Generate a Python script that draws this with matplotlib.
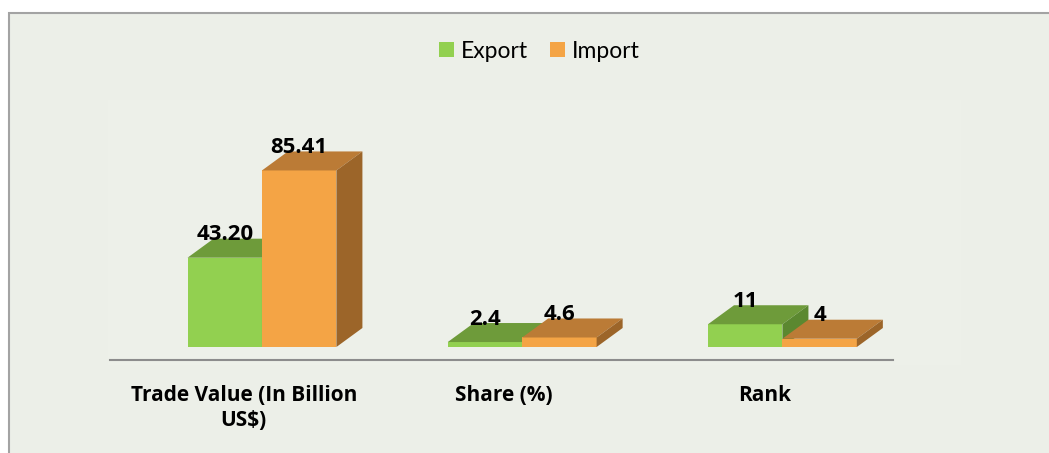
import matplotlib.pyplot as plt
from matplotlib.patches import Polygon, Rectangle, Patch

# --------------------------------------------------
# Data
# --------------------------------------------------

categories = ["Trade Value (In Billion\nUS$)", "Share (%)", "Rank"]
export_values = [43.20, 2.4, 11]
import_values = [85.41, 4.6, 4]
export_labels = ["43.20", "2.4", "11"]
import_labels = ["85.41", "4.6", "4"]

# --------------------------------------------------
# Style
# --------------------------------------------------

W, H = 1049, 453
BG = "#ECEFE8"
BOLD_FONT = ["Open Sans", "DejaVu Sans"]

export_colors = ("#92D050", "#6E9B3A", "#5B8830")   # front, top, side
import_colors = ("#F4A445", "#BB7B36", "#9C6529")

bar_w = 0.286     # width of one bar (category units)
depth_x = 0.10    # 3d depth offset along x
depth_y = 9.2     # 3d depth offset along y (value units)

plt.rcParams["font.family"] = ["Lato", "DejaVu Sans"]

fig = plt.figure(figsize=(W / 100, H / 100), dpi=100, facecolor="white")

# chart frame
fig.patches.append(Rectangle((9 / W, -0.05), 1.05, 1 - 13 / H + 0.05,
                             transform=fig.transFigure, facecolor=BG,
                             edgecolor="#A3A3A3", linewidth=1.5, zorder=-2))
fig.patches.append(Rectangle((108 / W, 1 - 365 / H), (961 - 108) / W, 265 / H,
                             transform=fig.transFigure, facecolor="#EDF0E9",
                             edgecolor="none", zorder=-1))

ax = fig.add_axes([110 / W, 1 - 360 / H, 783 / W, 260 / H], zorder=1)
ax.set_facecolor("none")
ax.set_xlim(-0.584, 2.425)
ax.set_ylim(-6.29, 119.5)

# --------------------------------------------------
# 3D bars
# --------------------------------------------------

def bar3d(x0, h, colors):
    front, top, side = colors
    ax.add_patch(Polygon([(x0, 0), (x0 + bar_w, 0), (x0 + bar_w, h), (x0, h)],
                         closed=True, facecolor=front, edgecolor="none"))
    ax.add_patch(Polygon([(x0, h), (x0 + bar_w, h),
                          (x0 + bar_w + depth_x, h + depth_y), (x0 + depth_x, h + depth_y)],
                         closed=True, facecolor=top, edgecolor="none"))
    ax.add_patch(Polygon([(x0 + bar_w, 0), (x0 + bar_w + depth_x, depth_y),
                          (x0 + bar_w + depth_x, h + depth_y), (x0 + bar_w, h)],
                         closed=True, facecolor=side, edgecolor="none"))


for i in range(len(categories)):
    bar3d(i - bar_w, export_values[i], export_colors)
    bar3d(i, import_values[i], import_colors)

    ax.text(i - bar_w / 2, export_values[i] + depth_y - 0.8, export_labels[i],
            ha="center", va="baseline", fontsize=16, fontweight="bold",
            family=BOLD_FONT, color="black")
    ax.text(i + bar_w / 2, import_values[i] + depth_y - 0.8, import_labels[i],
            ha="center", va="baseline", fontsize=16, fontweight="bold",
            family=BOLD_FONT, color="black")

# --------------------------------------------------
# Axes
# --------------------------------------------------

for side in ["top", "left", "right"]:
    ax.spines[side].set_visible(False)
ax.spines["bottom"].set_color("#8C8C8C")
ax.spines["bottom"].set_linewidth(1.5)

ax.set_yticks([])
ax.set_xticks([i - 0.07 for i in range(len(categories))])
ax.set_xticklabels(categories, fontsize=15, fontweight="bold", family=BOLD_FONT,
                   linespacing=1.25)
ax.tick_params(axis="x", length=0, pad=18)

# --------------------------------------------------
# Legend
# --------------------------------------------------

handles = [Patch(facecolor=export_colors[0], label="Export"),
           Patch(facecolor=import_colors[0], label="Import")]
fig.legend(handles=handles, loc="center", bbox_to_anchor=(539 / W, 1 - 51 / H),
           ncol=2, frameon=False, fontsize=16.5, handlelength=0.66,
           handleheight=0.66, handletextpad=0.3, columnspacing=0.95)

plt.savefig("out.png", dpi=100, facecolor="white")
plt.close()
